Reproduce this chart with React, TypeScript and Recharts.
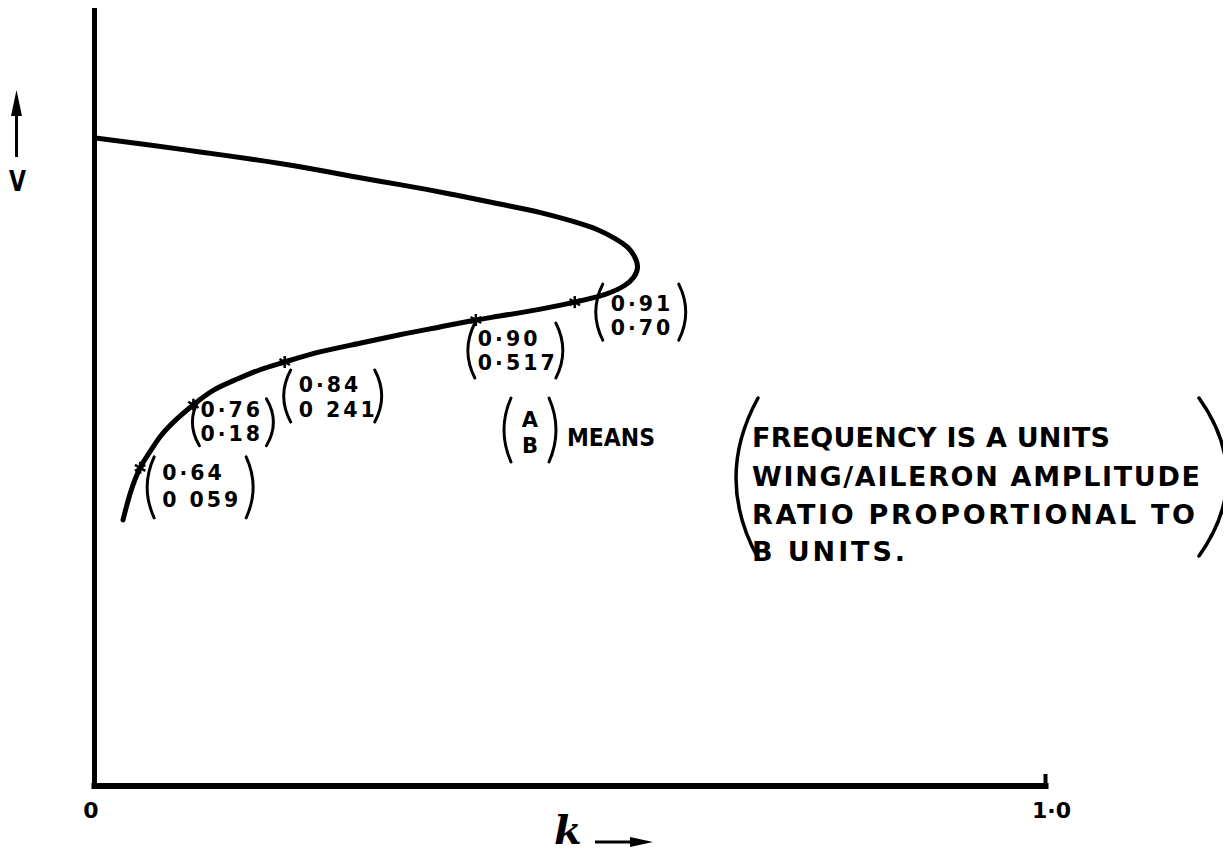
import React from 'react';
import { ComposedChart, Line, Scatter, XAxis, YAxis } from 'recharts';

// Flutter speed curve: V against frequency parameter k (V in arbitrary units, 0–100)
const curveK = [
  0.001, 0.058, 0.111, 0.164, 0.216, 0.269, 0.321, 0.374, 0.426, 0.469, 0.505, 0.529, 0.547, 0.561, 0.568, 0.571,
  0.567, 0.557, 0.537, 0.505, 0.469, 0.426, 0.401, 0.363, 0.321, 0.279, 0.237, 0.2, 0.174, 0.148, 0.124,
  0.104, 0.085, 0.069, 0.058, 0.048, 0.038, 0.03,
];
const curveV = [
  83.3, 82.4, 81.5, 80.6, 79.6, 78.4, 77.3, 76.1, 74.8, 73.7, 72.5, 71.5, 70.4, 69.2, 68.0, 66.7,
  65.4, 64.3, 63.2, 62.2, 61.3, 60.4, 59.9, 59.0, 58.0, 56.9, 55.8, 54.5, 53.5, 52.2, 50.8,
  49.0, 47.0, 44.9, 42.9, 40.9, 37.8, 34.2,
];

// Marked points on the lower branch with (frequency, amplitude ratio) annotations
const markerK = [0.048, 0.104, 0.2, 0.401, 0.505];
const markerV = [40.9, 49.0, 54.5, 59.9, 62.2];
const markerFreq = ['0·64', '0·76', '0·84', '0·90', '0·91'];
const markerRatio = ['0 059', '0·18', '0 241', '0·517', '0·70'];

const xTicks = [0, 1];
const xTickLabels = ['0', '1·0'];

const legendKey = ['A', 'B'];
const legendLines = [
  'FREQUENCY IS A UNITS',
  'WING/AILERON AMPLITUDE',
  'RATIO PROPORTIONAL TO',
  'B UNITS.',
];

const curve = curveK.map((k, i) => ({ k, v: curveV[i] }));
const markers = markerK.map((k, i) => ({
  k,
  v: markerV[i],
  freq: markerFreq[i],
  ratio: markerRatio[i],
  i,
}));

// Placement of each bracketed annotation relative to its marker (px)
const LABEL_BOX = [
  { lx: 7, rx: 113, top: -11, bottom: 50, tx: 22, y1: 5, y2: 32 },
  { lx: -1, rx: 80, top: -6, bottom: 41, tx: 7, y1: 5, y2: 29 },
  { lx: -1, rx: 97, top: 8, bottom: 60, tx: 14, y1: 23, y2: 48 },
  { lx: -8, rx: 87, top: 3, bottom: 58, tx: 2, y1: 19, y2: 43 },
  { lx: 21, rx: 111, top: -18, bottom: 38, tx: 36, y1: 1, y2: 25 },
];
const TICK_DX = [-3.5, 6];

const FONT = "'DejaVu Sans', 'Liberation Sans', sans-serif";
const INK = '#000';

const W = 1223;
const H = 850;

function Paren({ x, top, bottom, side, bow, width = 3 }: any) {
  const mid = (top + bottom) / 2;
  const d =
    side === 'left'
      ? `M${x + bow},${top} Q${x - bow},${mid} ${x + bow},${bottom}`
      : `M${x - bow},${top} Q${x + bow},${mid} ${x - bow},${bottom}`;
  return <path d={d} fill="none" stroke={INK} strokeWidth={width} strokeLinecap="round" />;
}

const MarkerShape = (props: any) => {
  const { cx, cy, payload } = props;
  if (cx == null || cy == null) return null;
  const b = LABEL_BOX[payload.i];
  const fs = 20.5;
  const r = 6;
  const x0 = cx + b.tx;
  return (
    <g>
      <line x1={cx} y1={cy - r} x2={cx} y2={cy + r} stroke={INK} strokeWidth={2.5} />
      <line x1={cx - r * 0.87} y1={cy - r / 2} x2={cx + r * 0.87} y2={cy + r / 2} stroke={INK} strokeWidth={2.5} />
      <line x1={cx - r * 0.87} y1={cy + r / 2} x2={cx + r * 0.87} y2={cy - r / 2} stroke={INK} strokeWidth={2.5} />
      <Paren x={cx + b.lx} top={cy + b.top} bottom={cy + b.bottom} side="left" bow={7} />
      <Paren x={cx + b.rx} top={cy + b.top} bottom={cy + b.bottom} side="right" bow={7} />
      <text fontFamily={FONT} fontWeight="bold" fontSize={fs} letterSpacing={3} fill={INK}>
        <tspan x={x0} y={cy + b.y1 + fs * 0.365}>
          {payload.freq}
        </tspan>
        <tspan x={x0} y={cy + b.y2 + fs * 0.365}>
          {payload.ratio}
        </tspan>
      </text>
    </g>
  );
};

const KTick = (props: any) => {
  const { x, y, payload } = props;
  const i = xTicks.indexOf(payload.value);
  if (i < 0) return null;
  const fs = 22;
  return (
    <g>
      {i === xTicks.length - 1 && (
        <line x1={x} y1={y} x2={x} y2={y - 12} stroke={INK} strokeWidth={4} />
      )}
      <text
        x={x + TICK_DX[i]}
        y={y + 24 + fs * 0.365}
        textAnchor="middle"
        fontFamily={FONT}
        fontWeight="bold"
        fontSize={fs}
        fill={INK}
      >
        {xTickLabels[i]}
      </text>
    </g>
  );
};

function Annotations() {
  const lfs = 27;
  const base = lfs * 0.365;
  const lineY = [429, 468, 506, 543];
  const lineW = [358, 448, 443, 153];
  return (
    <g>
      {/* V axis label with arrow */}
      <line x1={8.5} y1={149} x2={8.5} y2={100} stroke={INK} strokeWidth={3} />
      <polygon points="3,108 8.5,82 14,108" fill={INK} />
      <text
        x={1}
        y={173 + 28 * 0.365}
        fontFamily={FONT}
        fontWeight="bold"
        fontSize={28}
        textLength={17}
        lengthAdjust="spacingAndGlyphs"
        fill={INK}
      >
        V
      </text>

      {/* k axis label with arrow */}
      <text
        x={546}
        y={836}
        fontFamily="'DejaVu Serif', serif"
        fontStyle="italic"
        fontWeight="bold"
        fontSize={40}
        fill={INK}
      >
        k
      </text>
      <line x1={587} y1={834} x2={628} y2={834} stroke={INK} strokeWidth={3} />
      <polygon points="622,829 645,834 622,839" fill={INK} />

      {/* key: (A B) MEANS ( ... ) */}
      <Paren x={496} top={390} bottom={454} side="left" bow={7} />
      <text x={522} y={411 + 21 * 0.365} textAnchor="middle" fontFamily={FONT} fontWeight="bold" fontSize={21} fill={INK}>
        {legendKey[0]}
      </text>
      <text x={522} y={437 + 21 * 0.365} textAnchor="middle" fontFamily={FONT} fontWeight="bold" fontSize={21} fill={INK}>
        {legendKey[1]}
      </text>
      <Paren x={548} top={390} bottom={454} side="right" bow={7} />
      <text
        x={559}
        y={429 + 25 * 0.365}
        fontFamily={FONT}
        fontWeight="bold"
        fontSize={25}
        textLength={88}
        lengthAdjust="spacingAndGlyphs"
        fill={INK}
      >
        MEANS
      </text>

      <Paren x={728} top={390} bottom={550} side="left" bow={22} width={3.5} />
      {legendLines.map((t, i) => (
        <text
          key={t}
          x={744}
          y={lineY[i] + base}
          fontFamily={FONT}
          fontWeight="bold"
          fontSize={lfs}
          textLength={lineW[i]}
          lengthAdjust="spacing"
          fill={INK}
        >
          {t}
        </text>
      ))}
      <Paren x={1219} top={390} bottom={548} side="right" bow={28} width={3.5} />
    </g>
  );
}

export default function App() {
  return (
    <div style={{ width: W, height: H, background: '#fff' }}>
      <ComposedChart width={W} height={H} margin={{ top: 0, right: 185.5, bottom: 0, left: 76.5 }}>
        <XAxis
          dataKey="k"
          type="number"
          domain={[0, 1]}
          ticks={xTicks}
          interval={0}
          height={72}
          tickSize={0}
          tickMargin={0}
          tickLine={false}
          tick={<KTick />}
          axisLine={{ stroke: INK, strokeWidth: 6, strokeLinecap: 'square' }}
          allowDataOverflow
        />
        <YAxis
          dataKey="v"
          type="number"
          domain={[0, 100]}
          width={10}
          tick={false}
          tickLine={false}
          axisLine={{ stroke: INK, strokeWidth: 5, strokeLinecap: 'square' }}
          allowDataOverflow
        />
        <Line
          data={curve}
          dataKey="v"
          type="natural"
          stroke={INK}
          strokeWidth={5}
          strokeLinecap="round"
          strokeLinejoin="round"
          dot={false}
          activeDot={false}
          isAnimationActive={false}
        />
        <Scatter data={markers} dataKey="v" shape={<MarkerShape />} isAnimationActive={false} />
        <Annotations />
      </ComposedChart>
    </div>
  );
}
